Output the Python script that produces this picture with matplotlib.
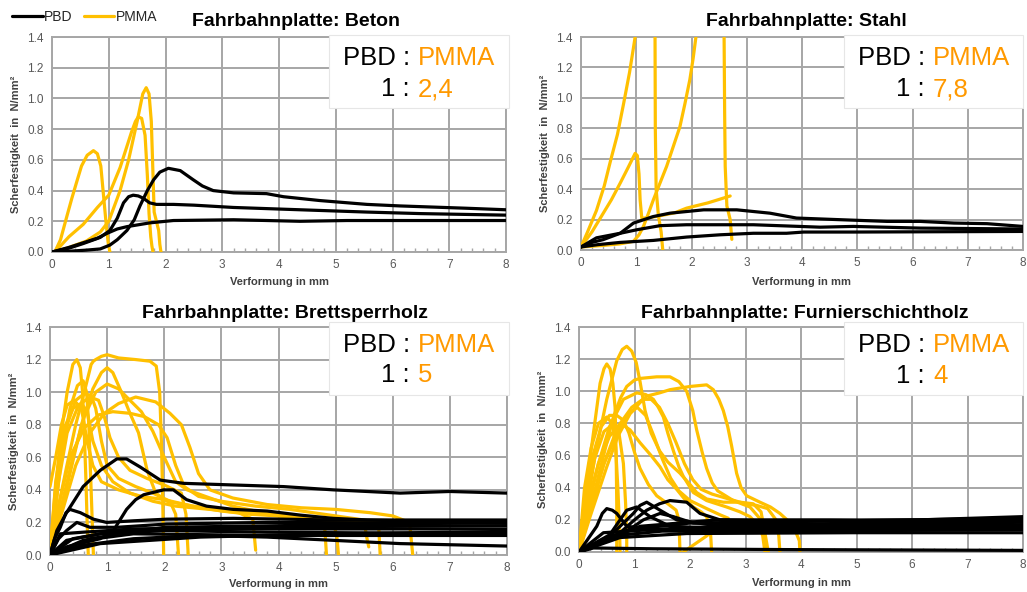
import matplotlib
matplotlib.use('Agg')
import matplotlib.pyplot as plt
from matplotlib.patches import Rectangle
from matplotlib.ticker import MultipleLocator, FormatStrFormatter

plt.rcParams['font.family'] = ['Liberation Sans', 'DejaVu Sans']

# %%
# Messkurven, je Kurve eine Liste von (Verformung, Scherfestigkeit)

beton_pbd = [
    [(0, 0), (0.3, 0.005), (0.6, 0.012), (0.85, 0.02), (1.02, 0.045), (1.15, 0.08), (1.32, 0.14),
     (1.45, 0.21), (1.55, 0.3), (1.68, 0.4), (1.79, 0.47), (1.9, 0.52), (2.05, 0.545), (2.26, 0.53),
     (2.49, 0.47), (2.65, 0.43), (2.84, 0.4), (3.2, 0.385), (3.78, 0.38), (4.08, 0.36), (4.72, 0.335),
     (5.55, 0.31), (6.13, 0.3), (7.3, 0.285), (8, 0.275)],
    [(0, 0), (0.3, 0.025), (0.55, 0.055), (0.85, 0.095), (1.02, 0.14), (1.15, 0.22), (1.26, 0.32),
     (1.35, 0.36), (1.43, 0.37), (1.52, 0.365), (1.61, 0.35), (1.72, 0.32), (1.84, 0.31), (2.14, 0.31),
     (2.5, 0.305), (3.2, 0.29), (4.37, 0.275), (5.55, 0.26), (6.5, 0.25), (8, 0.24)],
    [(0, 0), (0.3, 0.03), (0.55, 0.06), (0.8, 0.09), (0.96, 0.12), (1.15, 0.15), (1.32, 0.165),
     (1.73, 0.19), (2.14, 0.205), (3.2, 0.21), (4.37, 0.2), (5.2, 0.205), (6.13, 0.205), (8, 0.205)],
]
beton_pmma = [
    [(0.05, 0), (0.15, 0.08), (0.26, 0.23), (0.35, 0.35), (0.43, 0.45), (0.52, 0.56), (0.62, 0.63),
     (0.73, 0.66), (0.8, 0.64), (0.86, 0.56), (0.9, 0.4), (0.95, 0.2), (0.99, 0.06), (1.02, 0)],
    [(0.05, 0), (0.3, 0.1), (0.55, 0.18), (0.8, 0.29), (1.0, 0.37), (1.2, 0.55), (1.4, 0.78),
     (1.47, 0.85), (1.52, 0.88), (1.58, 0.87), (1.64, 0.76), (1.68, 0.5), (1.71, 0.25), (1.74, 0.1),
     (1.76, 0.04), (1.78, 0)],
    [(0.05, 0), (0.3, 0.03), (0.6, 0.07), (0.85, 0.13), (1.0, 0.2), (1.2, 0.4), (1.35, 0.6),
     (1.5, 0.85), (1.6, 1.03), (1.66, 1.07), (1.71, 1.03), (1.75, 0.85), (1.78, 0.5), (1.8, 0.26),
     (1.84, 0.2), (1.88, 0.14), (1.9, 0.05), (1.92, 0)],
]

stahl_pbd = [
    [(0, 0.02), (0.2, 0.05), (0.4, 0.068), (0.71, 0.11), (0.95, 0.177), (1.31, 0.22), (1.61, 0.242),
     (2.22, 0.264), (2.82, 0.264), (3.42, 0.242), (3.9, 0.21), (4.63, 0.2), (5.54, 0.188),
     (6.14, 0.188), (6.75, 0.177), (7.35, 0.173), (8, 0.155)],
    [(0, 0.02), (0.28, 0.08), (0.71, 0.11), (1.01, 0.133), (1.43, 0.16), (1.91, 0.166), (3.12, 0.166),
     (4.33, 0.15), (4.93, 0.155), (6.14, 0.144), (8, 0.138)],
    [(0, 0.02), (0.3, 0.035), (0.71, 0.05), (1.31, 0.063), (1.91, 0.085), (2.52, 0.1), (3.12, 0.11),
     (3.72, 0.11), (4.03, 0.118), (4.93, 0.118), (8, 0.122)],
]
stahl_pmma = [
    [(0, 0.02), (0.12, 0.12), (0.28, 0.26), (0.42, 0.42), (0.53, 0.58), (0.66, 0.76), (0.77, 0.96),
     (0.88, 1.17), (0.98, 1.4), (1.05, 1.6), (1.2, 1.8), (1.32, 1.6), (1.34, 1.4), (1.345, 0.8),
     (1.36, 0.4), (1.4, 0.23), (1.45, 0.12), (1.48, 0)],
    [(0, 0.02), (0.2, 0.12), (0.4, 0.24), (0.55, 0.33), (0.71, 0.44), (0.85, 0.54), (0.98, 0.635),
     (1.02, 0.62), (1.05, 0.5), (1.07, 0.33), (1.1, 0.21), (1.19, 0.21), (1.43, 0.225), (1.7, 0.245),
     (1.91, 0.275), (2.3, 0.31), (2.7, 0.355)],
    [(0, 0.02), (0.4, 0.03), (0.7, 0.04), (0.95, 0.057), (1.05, 0.1), (1.13, 0.155), (1.22, 0.24),
     (1.31, 0.33), (1.43, 0.44), (1.55, 0.55), (1.67, 0.68), (1.79, 0.81), (1.88, 0.96),
     (1.97, 1.12), (2.03, 1.26), (2.08, 1.4), (2.2, 1.6), (2.5, 1.7), (2.58, 1.5), (2.59, 1.4),
     (2.6, 0.9), (2.61, 0.55), (2.64, 0.29), (2.7, 0.2), (2.73, 0.07)],
]

brett_pbd = [
    [(0, 0), (0.12, 0.15), (0.29, 0.26), (0.58, 0.42), (0.88, 0.52), (1.17, 0.59), (1.34, 0.59),
     (1.58, 0.54), (1.93, 0.46), (2.34, 0.44), (3.21, 0.43), (4.09, 0.42), (4.96, 0.4), (5.55, 0.39),
     (6.13, 0.38), (7.0, 0.39), (8, 0.38)],
    [(0, 0), (0.29, 0.05), (0.88, 0.1), (1.11, 0.15), (1.34, 0.28), (1.5, 0.34), (1.64, 0.37),
     (1.99, 0.4), (2.16, 0.4), (2.39, 0.34), (2.74, 0.3), (3.21, 0.28), (3.8, 0.27), (4.38, 0.245),
     (4.96, 0.225), (5.55, 0.215), (6.13, 0.21), (8, 0.205)],
    [(0, 0), (0.08, 0.1), (0.18, 0.17), (0.28, 0.26), (0.35, 0.28), (0.53, 0.26), (0.76, 0.22),
     (0.99, 0.2), (1.46, 0.21), (2.04, 0.22), (3.21, 0.225), (4.96, 0.215), (8, 0.215)],
    [(0, 0), (0.15, 0.1), (0.29, 0.15), (0.47, 0.2), (0.7, 0.17), (1.17, 0.17), (2.04, 0.19),
     (3.8, 0.2), (8, 0.195)],
    [(0, 0), (0.18, 0.13), (0.58, 0.14), (1.46, 0.16), (3.21, 0.17), (5.55, 0.175), (8, 0.18)],
    [(0, 0), (0.29, 0.09), (0.88, 0.13), (2.04, 0.15), (3.8, 0.14), (8, 0.13)],
    [(0, 0), (0.58, 0.09), (1.46, 0.13), (3.8, 0.12), (8, 0.12)],
    [(0, 0), (0.58, 0.06), (1.46, 0.1), (2.63, 0.12), (3.8, 0.11), (4.96, 0.09), (6.13, 0.07),
     (8, 0.055)],
    [(0, 0), (0.88, 0.07), (2.63, 0.11), (4.96, 0.13), (8, 0.145)],
    [(0, 0), (0.4, 0.1), (1.2, 0.15), (3.0, 0.16), (5.5, 0.16), (8, 0.16)],
    [(0, 0), (0.7, 0.1), (2.0, 0.17), (4.0, 0.18), (6.0, 0.19), (8, 0.2)],
]
brett_pmma = [
    [(0, 0), (0.08, 0.35), (0.18, 0.7), (0.3, 1.0), (0.4, 1.17), (0.47, 1.2), (0.53, 1.15),
     (0.57, 1.0), (0.6, 0.75), (0.63, 0.45), (0.65, 0.2), (0.67, 0)],
    [(0, 0), (0.1, 0.3), (0.22, 0.65), (0.35, 0.9), (0.48, 1.04), (0.58, 1.07), (0.64, 1.0),
     (0.68, 0.8), (0.71, 0.5), (0.74, 0.2), (0.76, 0)],
    [(0, 0), (0.12, 0.25), (0.29, 0.54), (0.45, 0.8), (0.6, 1.0), (0.72, 1.17), (0.76, 1.19),
     (0.8, 1.2), (0.9, 1.22), (1.0, 1.23), (1.2, 1.21), (1.5, 1.2), (1.75, 1.19), (1.86, 1.16),
     (1.92, 1.0), (1.95, 0.7), (1.97, 0.4), (1.99, 0)],
    [(0, 0), (0.15, 0.2), (0.35, 0.5), (0.55, 0.8), (0.75, 1.02), (0.9, 1.12), (1.0, 1.15),
     (1.1, 1.12), (1.25, 1.0), (1.4, 0.87), (1.55, 0.75), (1.7, 0.52), (1.85, 0.38), (2.05, 0.33),
     (2.5, 0.3), (3.0, 0.28), (3.5, 0.26), (4.0, 0.24), (4.5, 0.23), (4.95, 0.21), (5.02, 0.12),
     (5.05, 0)],
    [(0, 0), (0.2, 0.3), (0.4, 0.6), (0.6, 0.85), (0.8, 1.0), (1.0, 1.05), (1.2, 1.02), (1.4, 0.95),
     (1.6, 0.88), (1.8, 0.76), (2.0, 0.6), (2.2, 0.45), (2.4, 0.4), (2.8, 0.35), (3.2, 0.3),
     (3.6, 0.27), (4.0, 0.25), (4.5, 0.23), (4.8, 0.22), (4.84, 0)],
    [(0, 0), (0.2, 0.25), (0.45, 0.55), (0.7, 0.75), (0.95, 0.87), (1.2, 0.93), (1.5, 0.97),
     (1.85, 0.94), (2.1, 0.87), (2.3, 0.8), (2.45, 0.66), (2.6, 0.5), (2.8, 0.4), (3.2, 0.35),
     (3.8, 0.31), (4.4, 0.29), (5.0, 0.28), (5.6, 0.26), (6.0, 0.24), (6.22, 0.21), (6.3, 0.18),
     (6.35, 0)],
    [(0, 0), (0.15, 0.3), (0.35, 0.6), (0.6, 0.78), (0.85, 0.86), (1.1, 0.88), (1.4, 0.87),
     (1.65, 0.85), (1.9, 0.8), (2.05, 0.72), (2.2, 0.55), (2.35, 0.42), (2.6, 0.36), (3.0, 0.33),
     (3.6, 0.3), (4.2, 0.28), (4.8, 0.25), (5.4, 0.22), (5.75, 0.2), (5.78, 0)],
    [(0, 0), (0.1, 0.4), (0.25, 0.75), (0.45, 0.95), (0.6, 0.99), (0.72, 0.98), (0.8, 0.9),
     (0.9, 0.7), (1.0, 0.55), (1.2, 0.47), (1.5, 0.42), (1.8, 0.38), (2.1, 0.33), (2.2, 0.25),
     (2.25, 0)],
    [(0, 0), (0.15, 0.45), (0.3, 0.75), (0.5, 0.92), (0.7, 0.97), (0.85, 0.95), (0.95, 0.85),
     (1.05, 0.72), (1.2, 0.6), (1.4, 0.52), (1.7, 0.47), (2.0, 0.43), (2.3, 0.38), (2.38, 0.25),
     (2.42, 0)],
    [(0, 0), (0.1, 0.45), (0.25, 0.78), (0.4, 0.9), (0.55, 0.93), (0.65, 0.88), (0.75, 0.7),
     (0.9, 0.55), (1.1, 0.45), (1.4, 0.38), (1.8, 0.33), (2.2, 0.3), (2.8, 0.28), (3.3, 0.26),
     (3.55, 0.22), (3.6, 0.03)],
    [(0, 0.42), (0.1, 0.6), (0.2, 0.8), (0.3, 0.92), (0.42, 0.95), (0.55, 0.9), (0.65, 0.7),
     (0.75, 0.55), (0.9, 0.45), (1.2, 0.4), (1.6, 0.36), (2.0, 0.34), (2.5, 0.3), (3.0, 0.27),
     (3.5, 0.25), (4.0, 0.24), (4.5, 0.22), (5.0, 0.21), (5.5, 0.2), (5.55, 0.1), (5.58, 0.05)],
]

furnier_pbd = [
    [(0, 0), (0.32, 0.16), (0.42, 0.24), (0.5, 0.27), (0.6, 0.26), (0.68, 0.24), (0.86, 0.16),
     (1.34, 0.14), (2.54, 0.16), (4.94, 0.18), (8, 0.2)],
    [(0, 0), (0.74, 0.12), (1.0, 0.2), (1.22, 0.26), (1.45, 0.3), (1.64, 0.32), (1.94, 0.31),
     (2.18, 0.24), (2.54, 0.2), (3.74, 0.19), (6.14, 0.2), (8, 0.22)],
    [(0, 0), (0.62, 0.12), (0.98, 0.24), (1.1, 0.29), (1.22, 0.31), (1.46, 0.26), (1.76, 0.2),
     (2.54, 0.16), (4.94, 0.16), (8, 0.17)],
    [(0, 0), (0.5, 0.08), (0.86, 0.26), (1.04, 0.28), (1.28, 0.22), (1.64, 0.16), (3.14, 0.14),
     (8, 0.15)],
    [(0, 0), (0.26, 0.025), (1.34, 0.02), (3.74, 0.015), (8, 0.01)],
    [(0, 0), (0.74, 0.09), (1.94, 0.115), (4.94, 0.12), (8, 0.12)],
    [(0, 0), (0.44, 0.12), (1.34, 0.14), (3.74, 0.15), (8, 0.16)],
    [(0, 0), (0.74, 0.1), (1.16, 0.2), (1.46, 0.24), (1.7, 0.22), (2.06, 0.18), (4.34, 0.17),
     (8, 0.185)],
    [(0, 0), (0.6, 0.1), (1.5, 0.13), (4.0, 0.13), (8, 0.14)],
    [(0, 0), (0.9, 0.14), (2.0, 0.18), (4.0, 0.19), (8, 0.21)],
    [(0, 0), (1.1, 0.16), (2.5, 0.2), (4.5, 0.2), (8, 0.195)],
]
furnier_pmma = [
    [(0, 0), (0.14, 0.43), (0.26, 0.74), (0.38, 1.05), (0.45, 1.14), (0.5, 1.17), (0.56, 1.14),
     (0.61, 1.05), (0.65, 0.9), (0.67, 0.6), (0.68, 0.3), (0.68, 0)],
    [(0, 0), (0.15, 0.3), (0.3, 0.62), (0.5, 0.95), (0.68, 1.19), (0.78, 1.26), (0.86, 1.28),
     (0.95, 1.25), (1.03, 1.18), (1.1, 1.06), (1.19, 0.88), (1.3, 0.74), (1.45, 0.63), (1.6, 0.56),
     (1.82, 0.49), (2.0, 0.42), (2.12, 0.37), (2.3, 0.33), (2.6, 0.31), (2.9, 0.31), (3.14, 0.3),
     (3.28, 0.25), (3.35, 0.12), (3.41, 0)],
    [(0, 0), (0.15, 0.2), (0.32, 0.43), (0.5, 0.68), (0.62, 0.84), (0.75, 0.96), (0.86, 1.03),
     (1.0, 1.07), (1.1, 1.08), (1.4, 1.09), (1.64, 1.09), (1.8, 1.06), (1.94, 1.0), (2.05, 0.88),
     (2.12, 0.76), (2.22, 0.62), (2.3, 0.52), (2.4, 0.43), (2.5, 0.38), (2.78, 0.32), (3.08, 0.28),
     (3.28, 0.2), (3.33, 0.1), (3.37, 0)],
    [(0, 0), (0.2, 0.22), (0.5, 0.53), (0.7, 0.72), (0.92, 0.86), (1.1, 0.93), (1.22, 0.97),
     (1.45, 0.99), (1.64, 1.01), (2.0, 1.03), (2.3, 1.04), (2.42, 1.01), (2.52, 0.95), (2.6, 0.88),
     (2.68, 0.78), (2.75, 0.66), (2.84, 0.49), (2.92, 0.4), (3.02, 0.35), (3.26, 0.31), (3.45, 0.28),
     (3.62, 0.24), (3.78, 0.19), (3.9, 0.13), (3.97, 0.07), (3.98, 0)],
    [(0, 0), (0.15, 0.25), (0.35, 0.55), (0.55, 0.78), (0.8, 0.95), (1.04, 0.99), (1.2, 0.98),
     (1.34, 0.95), (1.43, 0.9), (1.52, 0.84), (1.6, 0.74), (1.7, 0.63), (1.8, 0.53), (1.88, 0.47),
     (2.06, 0.37), (2.3, 0.32), (2.66, 0.28), (2.9, 0.25), (3.08, 0.22), (3.25, 0.16), (3.31, 0.1),
     (3.35, 0)],
    [(0, 0), (0.12, 0.35), (0.25, 0.6), (0.4, 0.78), (0.55, 0.85), (0.68, 0.85), (0.8, 0.82),
     (0.9, 0.74), (1.0, 0.62), (1.1, 0.52), (1.25, 0.42), (1.4, 0.35), (1.6, 0.3), (1.75, 0.26),
     (1.8, 0.2), (1.82, 0)],
    [(0, 0), (0.15, 0.3), (0.35, 0.55), (0.55, 0.72), (0.75, 0.8), (0.92, 0.76), (1.1, 0.68),
     (1.3, 0.6), (1.46, 0.53), (1.6, 0.45), (1.76, 0.39), (1.9, 0.33), (2.06, 0.28), (2.2, 0.25),
     (2.3, 0.22), (2.37, 0.12), (2.39, 0)],
    [(0, 0), (0.1, 0.4), (0.22, 0.65), (0.35, 0.8), (0.5, 0.84), (0.6, 0.8), (0.66, 0.65),
     (0.7, 0.4), (0.73, 0.15), (0.74, 0)],
    [(0, 0), (0.12, 0.3), (0.28, 0.58), (0.45, 0.75), (0.6, 0.79), (0.72, 0.74), (0.8, 0.55),
     (0.84, 0.3), (0.86, 0.1), (0.86, 0)],
    [(0, 0), (0.2, 0.25), (0.45, 0.55), (0.7, 0.78), (0.95, 0.9), (1.15, 0.95), (1.3, 0.95),
     (1.45, 0.9), (1.6, 0.8), (1.75, 0.68), (1.9, 0.55), (2.05, 0.45), (2.2, 0.39), (2.4, 0.36),
     (2.7, 0.33), (3.0, 0.3), (3.2, 0.29), (3.4, 0.27), (3.55, 0.2), (3.6, 0.1), (3.62, 0)],
    [(0, 0), (0.2, 0.28), (0.45, 0.55), (0.7, 0.75), (0.9, 0.86), (1.05, 0.9), (1.2, 0.85),
     (1.35, 0.72), (1.5, 0.58), (1.65, 0.46), (1.8, 0.38), (2.0, 0.32), (2.3, 0.27), (2.55, 0.23),
     (2.69, 0.21), (2.3, 0.1), (1.88, 0)],
]

titles = ['Fahrbahnplatte: Beton', 'Fahrbahnplatte: Stahl',
          'Fahrbahnplatte: Brettsperrholz', 'Fahrbahnplatte: Furnierschichtholz']
verhaeltnis = ['2,4', '7,8', '5', '4']
x_ticks = [0, 1, 2, 3, 4, 5, 6, 7, 8]
y_ticks = [0.0, 0.2, 0.4, 0.6, 0.8, 1.0, 1.2, 1.4]

# %%
W, H = 1027, 592
GOLD = '#FFC000'
ORANGE = '#FF9900'
GRID = '#A6A6A6'
TXT = '#595959'

fig = plt.figure(figsize=(W / 100, H / 100), dpi=100)

def fx(x):
    return x / W

def fy(y):
    return 1 - y / H

# pixel-layout: achse (links, rechts, oben, unten), titel (x, baseline), box, doppelpunkt x, zeilen baselines
layout = [
    dict(ax=(52, 506, 37, 252), title=(296, 26), box=(329, 509, 35, 108), colon=(410, 418), rows=(65, 96), xl=282),
    dict(ax=(581, 1023, 37, 250), title=(806, 26), box=(844, 1023, 35, 108), colon=(925, 933), rows=(65, 96), xl=282),
    dict(ax=(50, 507, 327, 555), title=(285, 318), box=(329, 509, 322, 395), colon=(410, 418), rows=(352, 382), xl=584),
    dict(ax=(579, 1023, 327, 552), title=(805, 318), box=(844, 1023, 322, 395), colon=(925, 933), rows=(352, 383), xl=583),
]
daten = [(beton_pbd, beton_pmma), (stahl_pbd, stahl_pmma),
         (brett_pbd, brett_pmma), (furnier_pbd, furnier_pmma)]

handles = []
for i, lay in enumerate(layout):
    l, r, t, b = lay['ax']
    ax = fig.add_axes([fx(l), fy(b), (r - l) / W, (b - t) / H])
    pbd, pmma = daten[i]
    for c in pmma:
        xs, ys = zip(*c)
        hg, = ax.plot(xs, ys, color=GOLD, lw=2.3, solid_capstyle='round', zorder=3)
    for c in pbd:
        xs, ys = zip(*c)
        hb, = ax.plot(xs, ys, color='black', lw=2.3, solid_capstyle='round', zorder=4)
    if i == 0:
        handles = [hb, hg]

    ax.set_xlim(0, 8)
    ax.set_ylim(0, 1.4)
    ax.set_xticks(x_ticks)
    ax.set_yticks(y_ticks)
    ax.yaxis.set_major_formatter(FormatStrFormatter('%.1f'))
    ax.xaxis.set_minor_locator(MultipleLocator(0.2))
    ax.grid(True, color=GRID, lw=1.4)
    ax.set_axisbelow(True)
    for s in ax.spines.values():
        s.set_color(GRID)
        s.set_linewidth(1.4)
    ax.tick_params(which='major', length=0, labelsize=8.5, labelcolor=TXT, pad=6)
    ax.tick_params(axis='x', which='major', pad=5)
    ax.tick_params(axis='x', which='minor', direction='in', length=3, color=GRID, width=1)

    fig.text(fx(lay['title'][0]), fy(lay['title'][1]), titles[i], ha='center', va='baseline',
             fontsize=14, fontweight='bold', color='black')
    fig.text(fx((l + r) / 2), fy(lay['xl']), 'Verformung in mm', ha='center', va='center',
             fontsize=8, fontweight='bold', color='#404040')
    fig.text(fx(l - 36), fy((t + b) / 2), 'Scherfestigkeit  in  N/mm²', ha='center', va='center',
             rotation=90, fontsize=8, fontweight='bold', color='#404040')

    bl, br, bt, bb = lay['box']
    fig.add_artist(Rectangle((fx(bl), fy(bb)), (br - bl) / W, (bb - bt) / H,
                             transform=fig.transFigure, facecolor='white', edgecolor='#E6E6E6',
                             lw=0.8, zorder=5))
    c1, c2 = lay['colon']
    r1, r2 = lay['rows']
    fig.text(fx(c1), fy(r1), 'PBD :', ha='right', va='baseline', fontsize=18.5, color='black', zorder=6)
    fig.text(fx(c2), fy(r1), 'PMMA', ha='left', va='baseline', fontsize=18.5, color=ORANGE, zorder=6)
    fig.text(fx(c1), fy(r2), '1 :', ha='right', va='baseline', fontsize=18.5, color='black', zorder=6)
    fig.text(fx(c2), fy(r2), verhaeltnis[i], ha='left', va='baseline', fontsize=18.5, color=ORANGE, zorder=6)

fig.legend(handles, ['PBD', 'PMMA'], loc='center left', bbox_to_anchor=(fx(12), fy(17)),
           ncol=2, frameon=False, fontsize=10, handlelength=2.2, handletextpad=0.1,
           columnspacing=0.8, borderpad=0, borderaxespad=0, labelcolor='#262626')

fig.savefig('out.png', dpi=100)
